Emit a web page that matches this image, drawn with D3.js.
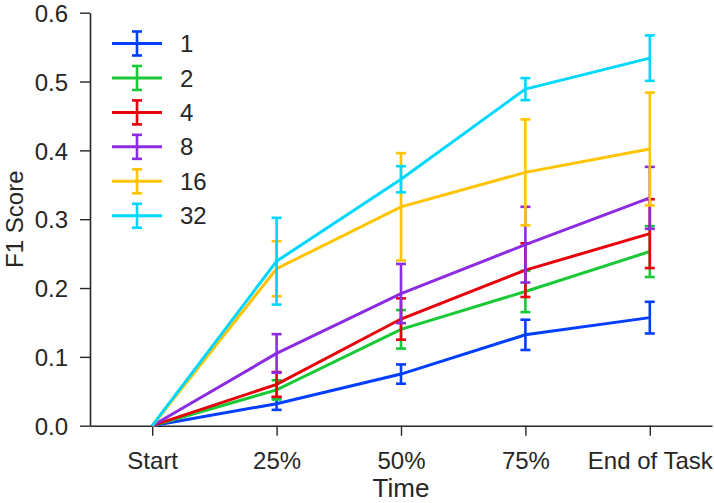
<!DOCTYPE html>
<html><head><meta charset="utf-8">
<script src="https://cdn.jsdelivr.net/npm/d3@7"></script>
<style>
html,body{margin:0;padding:0;background:#fff;}
text{font-family:"Liberation Sans",Arial,sans-serif;fill:#262626;}
</style></head>
<body>
<svg id="chart" width="714" height="503"></svg>
<script>
const categories = ["Start", "25%", "50%", "75%", "End of Task"];
const seriesNames = ["1", "2", "4", "8", "16", "32"];
const seriesColors = ["#023EFF", "#1AC938", "#E8000B", "#8B2BE2", "#FFC400", "#00D7FF"];
const values1  = [0, 0.032, 0.075, 0.132, 0.157];
const values2  = [0, 0.052, 0.140, 0.195, 0.253];
const values4  = [0, 0.060, 0.155, 0.226, 0.279];
const values8  = [0, 0.105, 0.192, 0.263, 0.331];
const values16 = [0, 0.228, 0.318, 0.368, 0.402];
const values32 = [0, 0.239, 0.358, 0.489, 0.534];
const errors1  = [0, 0.009, 0.014, 0.022, 0.023];
const errors2  = [0, 0.014, 0.028, 0.030, 0.037];
const errors4  = [0, 0.018, 0.030, 0.039, 0.050];
const errors8  = [0, 0.028, 0.043, 0.055, 0.045];
const errors16 = [0, 0.040, 0.078, 0.077, 0.082];
const errors32 = [0, 0.063, 0.019, 0.016, 0.033];
const yTicks = [0, 0.1, 0.2, 0.3, 0.4, 0.5, 0.6];

const allValues = [values1, values2, values4, values8, values16, values32];
const allErrors = [errors1, errors2, errors4, errors8, errors16, errors32];

const svg = d3.select("#chart");
const x = d3.scaleLinear().domain([-0.5, categories.length - 0.5]).range([90, 712]);
const y = d3.scaleLinear().domain([0, 0.6]).range([425.7, 12.7]);

// axes
const xAxis = svg.append("g").attr("transform", `translate(0,${y(0)})`)
  .call(d3.axisBottom(x).tickValues(d3.range(categories.length)).tickFormat(i => categories[i]).tickSize(10).tickSizeOuter(0).tickPadding(16));
const yAxis = svg.append("g").attr("transform", `translate(${x(-0.5)},0)`)
  .call(d3.axisLeft(y).tickValues(yTicks).tickFormat(d3.format(".1f")).tickSize(10).tickSizeOuter(0).tickPadding(12));
[xAxis, yAxis].forEach(g => {
  g.selectAll("path.domain").attr("stroke", "#262626").attr("stroke-width", 1.6);
  g.selectAll(".tick line").attr("stroke", "#262626").attr("stroke-width", 1.4);
  g.selectAll(".tick text").style("font-size", "24px").attr("fill", "#262626")
    .style("font-family", '"Liberation Sans", Arial, sans-serif');
});
yAxis.selectAll(".tick text").attr("dy", "0.36em");

svg.append("text").attr("x", 401).attr("y", 497).attr("text-anchor", "middle")
  .style("font-size", "26px").text("Time");
svg.append("text").attr("transform", `translate(23,${(y(0)+y(0.6))/2}) rotate(-90)`)
  .attr("text-anchor", "middle").style("font-size", "24px").text("F1 Score");

// series
const line = d3.line().x((d, i) => x(i)).y(d => y(d));
const capW = 5;
allValues.forEach((vals, s) => {
  const c = seriesColors[s];
  const g = svg.append("g");
  g.append("path").datum(vals).attr("d", line).attr("fill", "none")
    .attr("stroke", c).attr("stroke-width", 3);
  vals.forEach((v, i) => {
    const e = allErrors[s][i];
    if (e <= 0) return;
    const cx = x(i);
    g.append("line").attr("x1", cx).attr("x2", cx).attr("y1", y(v - e)).attr("y2", y(v + e))
      .attr("stroke", c).attr("stroke-width", 2.6);
    [v - e, v + e].forEach(t => {
      g.append("line").attr("x1", cx - capW).attr("x2", cx + capW).attr("y1", y(t)).attr("y2", y(t))
        .attr("stroke", c).attr("stroke-width", 2.6);
    });
  });
});

// legend
const legend = svg.append("g");
seriesNames.forEach((n, s) => {
  const ly = 43.5 + s * 34.45;
  const c = seriesColors[s];
  legend.append("line").attr("x1", 112).attr("x2", 162).attr("y1", ly).attr("y2", ly)
    .attr("stroke", c).attr("stroke-width", 3);
  legend.append("line").attr("x1", 137).attr("x2", 137).attr("y1", ly - 12).attr("y2", ly + 12)
    .attr("stroke", c).attr("stroke-width", 2.6);
  [ly - 12, ly + 12].forEach(t => legend.append("line").attr("x1", 137 - capW).attr("x2", 137 + capW)
    .attr("y1", t).attr("y2", t).attr("stroke", c).attr("stroke-width", 2.6));
  legend.append("text").attr("x", 180).attr("y", ly).attr("dy", "0.36em")
    .style("font-size", "24px").text(n);
});
</script>
</body></html>
